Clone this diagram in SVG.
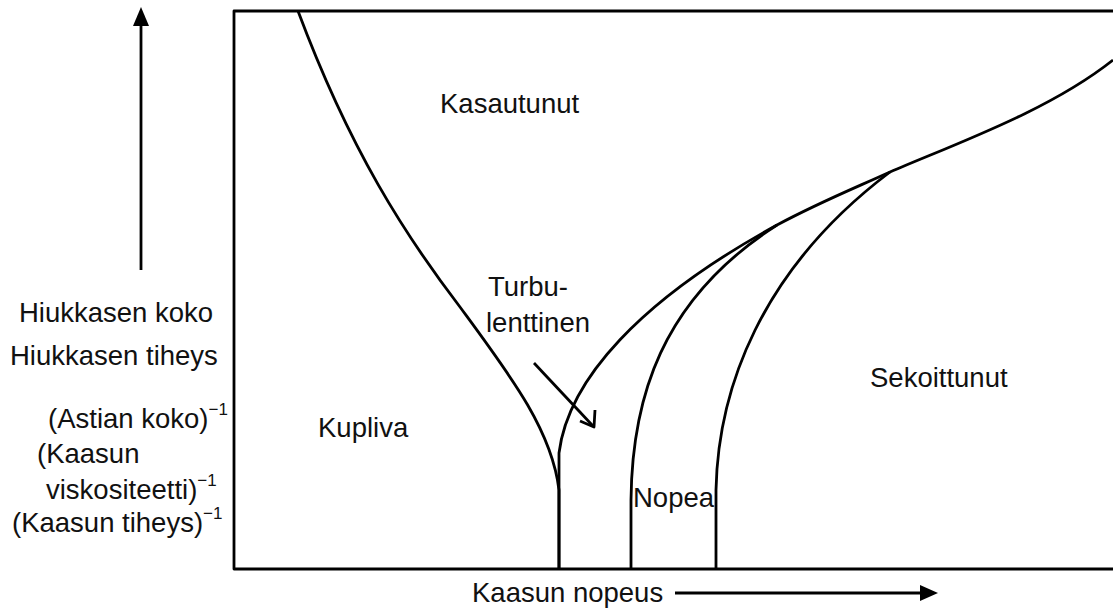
<svg xmlns="http://www.w3.org/2000/svg" width="1113" height="609" viewBox="0 0 1113 609">
<style>
.ln{fill:none;stroke:#000;stroke-width:2.8;stroke-linejoin:round}
.tx{font-family:"Liberation Sans",Arial,sans-serif;font-size:27.5px;fill:#111}
.sp{font-size:17px}
</style>
<rect width="1113" height="609" fill="#fff"/>
<g id="frame">
<path class="ln" d="M1115,11 L234,11 L234,569 L1115,569"/>
</g>
<g id="axes">
<path class="ln" d="M141,270 L141,26"/>
<path d="M133,26 L141,7 L149,26 z" fill="#000"/>
<path class="ln" d="M675,593 L922,593"/>
<path d="M920,585 L938,593 L920,601 z" fill="#000"/>
</g>
<g id="connectors">
<path class="ln" d="M298,11 C350,150 405,235 460,307 C510,375 552,430 559,490 L559,569"/>
<path class="ln" d="M559,569 L559,453 C568,380 640,300 777,225 C820,202 855,188 890,172 C960,142 1050,110 1113,60"/>
<path class="ln" d="M631,569 L631,500 C632,400 660,300 777,225"/>
<path class="ln" d="M716,569 L716,490 C718,390 760,270 890,172"/>
<path class="ln" d="M534,363 L593,426"/>
<path class="ln" d="M580,421 L594,427 L595,410"/>
</g>
<g id="labels">
<text class="tx" x="440" y="113">Kasautunut</text>
<text class="tx" x="488" y="296">Turbu-</text>
<text class="tx" x="486" y="332">lenttinen</text>
<text class="tx" x="633" y="507">Nopea</text>
<text class="tx" x="870" y="387">Sekoittunut</text>
<text class="tx" x="318" y="437">Kupliva</text>
<text class="tx" x="19" y="322">Hiukkasen koko</text>
<text class="tx" x="10" y="365">Hiukkasen tiheys</text>
<text class="tx" x="48" y="428">(Astian koko)<tspan class="sp" dy="-13">−1</tspan></text>
<text class="tx" x="37" y="463">(Kaasun</text>
<text class="tx" x="46" y="499">viskositeetti)<tspan class="sp" dy="-13">−1</tspan></text>
<text class="tx" x="12" y="532">(Kaasun tiheys)<tspan class="sp" dy="-13">−1</tspan></text>
<text class="tx" x="472" y="602">Kaasun nopeus</text>
</g>
</svg>
